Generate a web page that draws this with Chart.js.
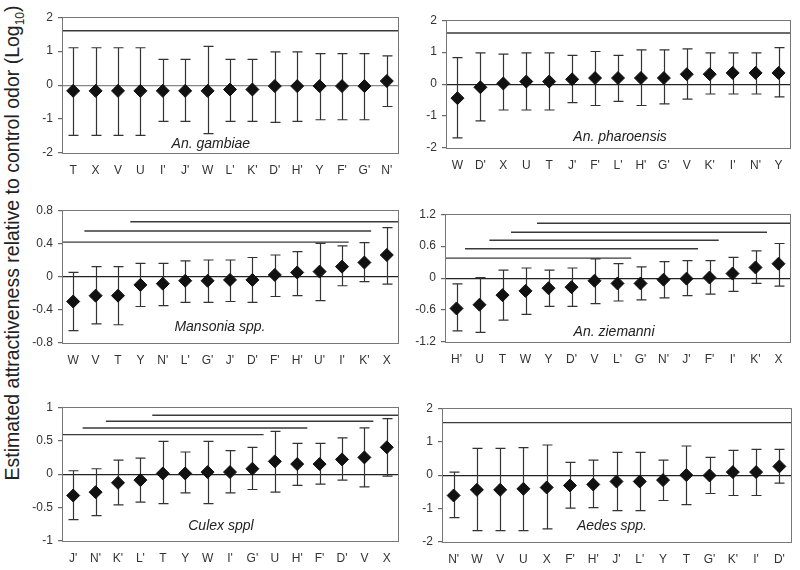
<!DOCTYPE html>
<html><head><meta charset="utf-8">
<script src="https://cdn.jsdelivr.net/npm/chart.js@4.4.1/dist/chart.umd.min.js"></script>
<style>
body{margin:0;background:#fff;width:800px;height:570px;position:relative;overflow:hidden;font-family:"Liberation Sans",Arial,sans-serif;}
.p{position:absolute;}
#yt{position:absolute;left:14px;top:243px;transform:translate(-50%,-50%) rotate(-90deg);white-space:nowrap;font-size:19.5px;color:#222;}
</style></head><body>
<div id="yt">Estimated attractiveness relative to control odor (Log<sub style="font-size:12px">10</sub>)</div>
<script>
// ---- data ----
const gambiaeLabels = ["T","X","V","U","I'","J'","W","L'","K'","D'","H'","Y","F'","G'","N'"];
const gambiaeMean = [-0.17,-0.17,-0.17,-0.17,-0.17,-0.17,-0.17,-0.13,-0.13,-0.03,-0.03,-0.03,-0.03,-0.03,0.12];
const gambiaeHigh = [1.10,1.10,1.10,1.10,0.76,0.76,1.14,0.76,0.76,0.98,0.98,0.93,0.93,0.93,0.86];
const gambiaeLow = [-1.48,-1.48,-1.48,-1.48,-1.07,-1.07,-1.43,-1.07,-1.07,-1.10,-1.07,-1.02,-1.02,-1.02,-0.63];
const gambiaeSig = [[-0.5,14.5,1.6]];
const gambiaeYTicks = [-2,-1,0,1,2];

const pharoensisLabels = ["W","D'","X","U","T","J'","F'","L'","H'","G'","V","K'","I'","N'","Y"];
const pharoensisMean = [-0.44,-0.10,0.02,0.08,0.08,0.15,0.19,0.19,0.19,0.19,0.31,0.31,0.35,0.35,0.35];
const pharoensisHigh = [0.83,0.98,0.94,0.98,0.98,0.90,1.02,0.90,1.07,1.07,1.10,0.98,0.98,0.98,1.14];
const pharoensisLow = [-1.68,-1.15,-0.81,-0.81,-0.81,-0.58,-0.67,-0.54,-0.67,-0.62,-0.47,-0.31,-0.31,-0.31,-0.40];
const pharoensisSig = [[-0.5,14.5,1.6]];
const pharoensisYTicks = [-2,-1,0,1,2];

const mansoniaLabels = ["W","V","T","Y","N'","L'","G'","J'","D'","F'","H'","U'","I'","K'","X"];
const mansoniaMean = [-0.30,-0.23,-0.23,-0.10,-0.085,-0.05,-0.05,-0.04,-0.04,0.02,0.05,0.06,0.12,0.17,0.26];
const mansoniaHigh = [0.05,0.12,0.12,0.16,0.16,0.19,0.20,0.20,0.23,0.26,0.30,0.40,0.37,0.41,0.59];
const mansoniaLow = [-0.65,-0.57,-0.58,-0.36,-0.35,-0.31,-0.31,-0.30,-0.31,-0.24,-0.23,-0.29,-0.11,-0.06,-0.09];
const mansoniaSig = [[-0.5,12.3,0.415],[0.5,13.3,0.55],[2.55,14.5,0.66]];
const mansoniaYTicks = [-0.8,-0.4,0,0.4,0.8];

const ziemanniLabels = ["H'","U","T","W","Y","D'","V","L'","G'","N'","J'","F'","I'","K'","X"];
const ziemanniMean = [-0.57,-0.50,-0.32,-0.24,-0.19,-0.17,-0.05,-0.10,-0.10,-0.03,-0.01,0.01,0.085,0.20,0.27];
const ziemanniHigh = [-0.11,0.01,0.15,0.19,0.15,0.19,0.36,0.27,0.21,0.31,0.33,0.33,0.39,0.51,0.65];
const ziemanniLow = [-0.99,-1.02,-0.79,-0.68,-0.53,-0.53,-0.48,-0.43,-0.41,-0.37,-0.33,-0.30,-0.25,-0.10,-0.15];
const ziemanniSig = [[-0.5,7.6,0.375],[0.37,10.5,0.55],[1.43,11.4,0.71],[2.37,13.5,0.86],[3.5,14.5,1.03]];
const ziemanniYTicks = [-1.2,-0.6,0,0.6,1.2];

const culexLabels = ["J'","N'","K'","L'","T","Y","W","I'","G'","U","H'","F'","D'","V","X"];
const culexMean = [-0.32,-0.27,-0.13,-0.09,0.01,0.01,0.03,0.03,0.08,0.19,0.15,0.15,0.22,0.25,0.40];
const culexHigh = [0.05,0.08,0.21,0.24,0.49,0.33,0.49,0.35,0.40,0.64,0.46,0.46,0.54,0.69,0.83];
const culexLow = [-0.68,-0.62,-0.46,-0.42,-0.44,-0.28,-0.44,-0.28,-0.23,-0.27,-0.17,-0.15,-0.09,-0.19,-0.03];
const culexSig = [[-0.5,8.5,0.59],[0.42,10.45,0.69],[1.46,13.4,0.79],[3.53,14.5,0.88]];
const culexYTicks = [-1,-0.5,0,0.5,1];

const aedesLabels = ["N'","W","V","U","X","F'","H'","J'","L'","Y","T","G'","K'","I'","D'"];
const aedesMean = [-0.61,-0.44,-0.44,-0.41,-0.37,-0.31,-0.28,-0.19,-0.19,-0.15,0.00,-0.01,0.09,0.09,0.26];
const aedesHigh = [0.09,0.80,0.80,0.82,0.90,0.38,0.45,0.68,0.68,0.45,0.87,0.53,0.74,0.77,0.77];
const aedesLow = [-1.27,-1.66,-1.66,-1.66,-1.61,-0.99,-0.97,-1.06,-1.06,-0.76,-0.88,-0.55,-0.61,-0.61,-0.24];
const aedesSig = [[-0.5,14.5,1.57]];
const aedesYTicks = [-2,-1,0,1,2];

const panelNames = ["An. gambiae","An. pharoensis","Mansonia spp.","An. ziemanni","Culex sppl","Aedes spp."];

// ---- layout (positions / styles) ----
const panels = [
 {labels:gambiaeLabels, mean:gambiaeMean, high:gambiaeHigh, low:gambiaeLow, sig:gambiaeSig, yTicks:gambiaeYTicks, name:panelNames[0], area:[62,13,398,153], nameX:0.443, nameDy:9, zero:'#888'},
 {labels:pharoensisLabels, mean:pharoensisMean, high:pharoensisHigh, low:pharoensisLow, sig:pharoensisSig, yTicks:pharoensisYTicks, name:panelNames[1], area:[446,16,790,148], nameX:0.506, nameDy:11, zero:'#222'},
 {labels:mansoniaLabels, mean:mansoniaMean, high:mansoniaHigh, low:mansoniaLow, sig:mansoniaSig, yTicks:mansoniaYTicks, name:panelNames[2], area:[62,206,398,343], nameX:0.47, nameDy:16, zero:'#222'},
 {labels:ziemanniLabels, mean:ziemanniMean, high:ziemanniHigh, low:ziemanniLow, sig:ziemanniSig, yTicks:ziemanniYTicks, name:panelNames[3], area:[445,210,790,342], nameX:0.49, nameDy:10, zero:'#222'},
 {labels:culexLabels, mean:culexMean, high:culexHigh, low:culexLow, sig:culexSig, yTicks:culexYTicks, name:panelNames[4], area:[62,403,398,541], nameX:0.473, nameDy:15, zero:'#222'},
 {labels:aedesLabels, mean:aedesMean, high:aedesHigh, low:aedesLow, sig:aedesSig, yTicks:aedesYTicks, name:panelNames[5], area:[442,404,791,542], nameX:0.487, nameDy:16, zero:'#222'}
];

const AXW = 45, PADT = 8, PADR = 9, AXH = 28;

const panelPlugin = {
  id:'panelDecor',
  beforeDatasetsDraw(chart){
    const p = chart.options.plugins.panelDecor;
    const ctx = chart.ctx, xs = chart.scales.x, ys = chart.scales.y;
    ctx.save();
    ctx.strokeStyle = '#333'; ctx.lineWidth = 1.2;
    p.mean.forEach((m,i)=>{
      const x = Math.round(xs.getPixelForValue(i))+0.5;
      const yh = ys.getPixelForValue(p.high[i]), yl = ys.getPixelForValue(p.low[i]);
      ctx.beginPath();
      ctx.moveTo(x,yh); ctx.lineTo(x,yl);
      ctx.moveTo(x-5,yh); ctx.lineTo(x+5,yh);
      ctx.moveTo(x-5,yl); ctx.lineTo(x+5,yl);
      ctx.stroke();
    });
    ctx.restore();
  },
  afterDraw(chart){
    const p = chart.options.plugins.panelDecor;
    const ctx = chart.ctx, a = chart.chartArea;
    ctx.save();
    ctx.strokeStyle = '#777'; ctx.lineWidth = 1;
    ctx.strokeRect(Math.round(a.left)+0.5, Math.round(a.top)+0.5, Math.round(a.right-a.left), Math.round(a.bottom-a.top));
    ctx.fillStyle = '#222';
    ctx.font = 'italic 14px "Liberation Sans", Arial, sans-serif';
    ctx.textAlign = 'center'; ctx.textBaseline = 'middle';
    ctx.fillText(p.name, a.left + p.nameX*(a.right-a.left), a.bottom - p.nameDy);
    ctx.restore();
  }
};

panels.forEach((p,idx)=>{
  const [L,T,R,B] = p.area;
  const div = document.createElement('div');
  div.className = 'p';
  const w = R-L+AXW+PADR, h = B-T+PADT+AXH;
  div.style.left = (L-AXW)+'px'; div.style.top = (T-PADT)+'px';
  div.style.width = w+'px'; div.style.height = h+'px';
  const cv = document.createElement('canvas');
  cv.width = w; cv.height = h;
  div.appendChild(cv);
  document.body.appendChild(div);

  const datasets = [];
  p.sig.forEach(s=>{
    datasets.push({type:'line', data:[{x:s[0],y:s[2]},{x:s[1],y:s[2]}], borderColor:'#3a3a3a', borderWidth:1.4, pointRadius:0, fill:false});
  });
  datasets.push({type:'scatter', data:p.mean.map((m,i)=>({x:i,y:m})), pointStyle:'rectRot', pointRadius:6.5, backgroundColor:'#111', borderColor:'#111', borderWidth:1});

  const yMin = p.yTicks[0], yMax = p.yTicks[p.yTicks.length-1];
  new Chart(cv, {
    type:'scatter',
    data:{datasets},
    plugins:[panelPlugin],
    options:{
      animation:false, responsive:false, maintainAspectRatio:false,
      layout:{padding:{top:PADT,right:PADR,left:0,bottom:0}},
      plugins:{legend:{display:false}, tooltip:{enabled:false}, panelDecor:p},
      scales:{
        x:{type:'linear', min:-0.5, max:14.5,
           afterBuildTicks:s=>{s.ticks = p.labels.map((_,i)=>({value:i}));},
           afterFit:s=>{s.height = AXH;},
           ticks:{callback:v=>p.labels[v], autoSkip:false, maxRotation:0, padding:10, color:'#333', font:{size:12, family:'"Liberation Sans", Arial, sans-serif'}},
           grid:{display:false, drawTicks:false}, border:{display:false}},
        y:{type:'linear', min:yMin, max:yMax,
           afterBuildTicks:s=>{s.ticks = p.yTicks.map(v=>({value:v}));},
           afterFit:s=>{s.width = AXW;},
           ticks:{callback:v=>String(v), padding:5, color:'#333', font:{size:12, family:'"Liberation Sans", Arial, sans-serif'}},
           grid:{color:c=>(c.tick && c.tick.value===0) ? p.zero : 'rgba(0,0,0,0)', tickColor:'#666', tickLength:4, lineWidth:1.2},
           border:{display:false}}
      }
    }
  });
});
</script>
</body></html>
